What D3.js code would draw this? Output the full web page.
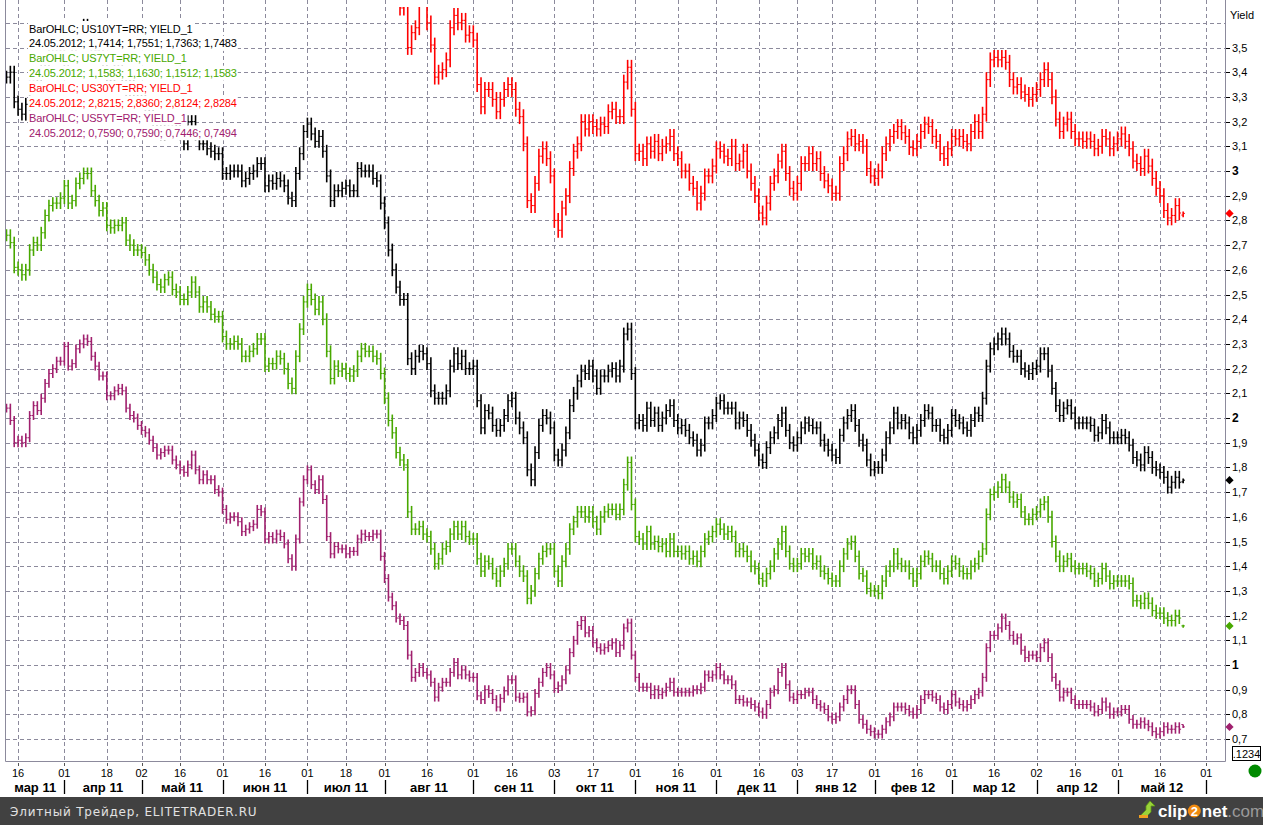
<!DOCTYPE html>
<html>
<head>
<meta charset="utf-8">
<script src="https://cdn.jsdelivr.net/npm/d3@7"></script>
<style>
  body { margin: 0; background: #fff; }
  svg { display: block; }
</style>
</head>
<body>
<script>
// trading calendar (US bond market days shown on the chart)
var calendarStart = "2011-03-11";
var calendarEnd = "2012-06-09";
var holidays = ["2011-04-22", "2011-05-30", "2011-07-04", "2011-09-05", "2011-11-24",
                "2011-12-26", "2012-01-02", "2012-01-16", "2012-02-20"];

// x axis labels
var tickDates = ["2011-03-16", "2011-04-01", "2011-04-18", "2011-05-02", "2011-05-16", "2011-06-01",
                 "2011-06-16", "2011-07-01", "2011-07-18", "2011-08-01", "2011-08-16", "2011-09-01",
                 "2011-09-16", "2011-10-03", "2011-10-17", "2011-11-01", "2011-11-16", "2011-12-01",
                 "2011-12-16", "2012-01-03", "2012-01-17", "2012-02-01", "2012-02-16", "2012-03-01",
                 "2012-03-16", "2012-04-02", "2012-04-16", "2012-05-01", "2012-05-16", "2012-06-01"];
var monthStarts = ["2011-04-01", "2011-05-02", "2011-06-01", "2011-07-01", "2011-08-01", "2011-09-01",
                   "2011-10-03", "2011-11-01", "2011-12-01", "2012-01-03", "2012-02-01", "2012-03-01",
                   "2012-04-02", "2012-05-01", "2012-06-01"];
var monthNames = ["мар 11", "апр 11", "май 11", "июн 11", "июл 11", "авг 11", "сен 11", "окт 11",
                  "ноя 11", "дек 11", "янв 12", "фев 12", "мар 12", "апр 12", "май 12"];

// y axis
var yTicks = [0.7, 0.8, 0.9, 1, 1.1, 1.2, 1.3, 1.4, 1.5, 1.6, 1.7, 1.8, 1.9, 2, 2.1, 2.2, 2.3, 2.4,
              2.5, 2.6, 2.7, 2.8, 2.9, 3, 3.1, 3.2, 3.3, 3.4, 3.5];
var yGrid = yTicks.concat([3.6]);

// daily yields (closes), 11.03.2011 - 24.05.2012
var us10Close = [
  3.38,3.40,3.28,3.25,3.23,3.27,3.34,3.34,3.36,3.42,
  3.44,3.47,3.48,3.47,3.47,3.45,3.46,3.50,3.57,3.56,
  3.59,3.58,3.50,3.49,3.52,3.41,3.37,3.37,3.41,3.42,
  3.36,3.33,3.37,3.33,3.29,3.29,3.27,3.24,3.16,3.17,
  3.15,3.21,3.21,3.21,3.17,3.15,3.11,3.20,3.20,3.15,
  3.11,3.11,3.09,3.08,3.07,3.07,2.99,2.99,3.00,3.00,
  3.00,2.96,2.97,2.99,3.00,3.03,3.03,2.94,2.96,2.95,
  2.97,2.96,2.94,2.89,2.88,2.99,3.07,3.16,3.19,3.15,
  3.12,3.14,3.08,2.98,2.88,2.92,2.92,2.93,2.94,2.92,
  2.92,3.01,3.00,3.00,3.00,2.97,2.96,2.87,2.79,2.68,
  2.60,2.53,2.48,2.48,2.24,2.20,2.25,2.27,2.26,2.22,
  2.11,2.08,2.08,2.08,2.11,2.21,2.26,2.22,2.25,2.20,
  2.20,2.21,2.07,1.96,2.03,2.02,1.97,1.95,1.97,2.01,
  2.07,2.08,2.00,1.96,1.92,1.79,1.75,1.86,1.97,2.01,
  2.00,1.96,1.85,1.83,1.87,1.94,2.05,2.10,2.15,2.19,
  2.18,2.21,2.17,2.12,2.17,2.17,2.19,2.20,2.17,2.21,
  2.34,2.36,2.18,1.98,1.99,1.97,2.04,1.99,2.02,1.97,
  2.00,2.03,2.05,1.99,1.96,1.97,1.95,1.92,1.91,1.87,
  1.89,1.98,1.98,2.01,2.06,2.07,2.04,2.04,2.04,1.98,
  2.00,1.99,1.95,1.91,1.87,1.83,1.82,1.88,1.92,1.94,
  1.99,2.02,1.95,1.90,1.89,1.92,1.96,1.98,1.97,1.96,
  1.96,1.91,1.89,1.87,1.85,1.84,1.93,1.98,2.01,2.03,
  1.97,1.91,1.89,1.83,1.79,1.80,1.80,1.85,1.92,1.96,
  2.02,1.98,1.99,1.98,1.94,1.92,1.95,1.99,2.03,2.02,
  1.97,1.97,1.93,1.92,1.95,2.01,1.99,1.98,1.96,1.95,
  1.99,2.02,2.01,2.08,2.21,2.28,2.30,2.32,2.34,2.32,
  2.27,2.25,2.25,2.20,2.19,2.18,2.20,2.21,2.26,2.26,
  2.19,2.12,2.05,2.01,2.04,2.05,2.02,1.98,1.98,1.98,
  1.98,1.97,1.93,1.94,1.99,1.96,1.92,1.92,1.92,1.93,
  1.92,1.89,1.84,1.83,1.81,1.86,1.84,1.80,1.79,1.78,
  1.76,1.72,1.74,1.76,1.74,1.7483];

var us7Close = [
  2.74,2.71,2.61,2.60,2.58,2.60,2.68,2.71,2.70,2.75,
  2.82,2.86,2.87,2.87,2.89,2.94,2.87,2.88,2.95,2.97,
  2.99,2.99,2.92,2.88,2.84,2.85,2.78,2.77,2.78,2.78,
  2.79,2.72,2.70,2.68,2.68,2.67,2.64,2.60,2.57,2.54,
  2.53,2.56,2.57,2.52,2.51,2.48,2.48,2.51,2.55,2.51,
  2.45,2.47,2.45,2.42,2.41,2.41,2.33,2.30,2.30,2.31,
  2.30,2.25,2.25,2.27,2.28,2.32,2.32,2.21,2.22,2.22,
  2.25,2.24,2.20,2.14,2.12,2.25,2.36,2.47,2.52,2.48,
  2.44,2.47,2.40,2.27,2.16,2.21,2.19,2.20,2.18,2.17,
  2.19,2.25,2.28,2.27,2.27,2.25,2.24,2.18,2.08,1.99,
  1.94,1.86,1.83,1.81,1.62,1.55,1.55,1.56,1.53,1.52,
  1.47,1.41,1.43,1.47,1.48,1.53,1.56,1.53,1.56,1.52,
  1.51,1.51,1.43,1.38,1.42,1.41,1.37,1.34,1.38,1.41,
  1.47,1.47,1.42,1.38,1.36,1.27,1.30,1.37,1.43,1.46,
  1.47,1.47,1.38,1.34,1.42,1.47,1.55,1.58,1.62,1.62,
  1.60,1.62,1.58,1.55,1.60,1.62,1.63,1.63,1.61,1.63,
  1.73,1.82,1.65,1.52,1.51,1.49,1.54,1.49,1.50,1.48,
  1.49,1.46,1.51,1.46,1.46,1.45,1.46,1.43,1.44,1.42,
  1.46,1.51,1.52,1.54,1.57,1.55,1.53,1.54,1.52,1.46,
  1.47,1.46,1.44,1.40,1.39,1.35,1.34,1.37,1.40,1.45,
  1.49,1.54,1.46,1.41,1.40,1.41,1.45,1.44,1.45,1.41,
  1.42,1.38,1.37,1.35,1.34,1.34,1.40,1.45,1.49,1.50,
  1.44,1.37,1.36,1.31,1.30,1.30,1.29,1.34,1.38,1.40,
  1.45,1.41,1.40,1.40,1.37,1.34,1.37,1.42,1.44,1.43,
  1.40,1.40,1.37,1.35,1.38,1.42,1.41,1.38,1.37,1.37,
  1.40,1.41,1.44,1.47,1.61,1.69,1.70,1.72,1.75,1.72,
  1.68,1.66,1.67,1.62,1.59,1.59,1.61,1.62,1.65,1.66,
  1.60,1.50,1.44,1.40,1.42,1.43,1.40,1.39,1.39,1.39,
  1.38,1.37,1.34,1.35,1.39,1.36,1.33,1.34,1.34,1.34,
  1.34,1.33,1.26,1.26,1.25,1.27,1.25,1.22,1.21,1.21,
  1.19,1.18,1.18,1.20,1.19,1.1583];

var us30Close = [
  4.53,4.50,4.46,4.38,4.42,4.44,4.50,4.48,4.50,4.53,
  4.53,4.56,4.55,4.52,4.51,4.49,4.51,4.56,4.62,4.61,
  4.64,4.63,4.56,4.55,4.58,4.47,4.43,4.42,4.47,4.48,
  4.43,4.41,4.44,4.41,4.39,4.39,4.37,4.35,4.28,4.30,
  4.28,4.33,4.32,4.33,4.29,4.28,4.26,4.32,4.29,4.28,
  4.25,4.25,4.25,4.20,4.20,4.20,4.12,4.19,4.17,4.21,
  4.24,4.20,4.24,4.21,4.23,4.30,4.19,4.17,4.14,4.19,
  4.20,4.20,4.18,4.11,4.09,4.20,4.27,4.38,4.38,4.38,
  4.34,4.38,4.29,4.26,4.19,4.22,4.21,4.25,4.26,4.24,
  4.26,4.31,4.30,4.30,4.31,4.27,4.25,4.12,4.06,3.93,
  3.88,3.72,3.66,3.69,3.50,3.56,3.58,3.70,3.72,3.60,
  3.51,3.38,3.40,3.41,3.45,3.58,3.63,3.60,3.61,3.55,
  3.56,3.53,3.35,3.26,3.33,3.33,3.29,3.24,3.29,3.33,
  3.35,3.33,3.25,3.22,3.11,2.88,2.86,2.95,3.06,3.09,
  3.05,2.98,2.80,2.76,2.85,2.90,3.01,3.08,3.11,3.20,
  3.17,3.20,3.18,3.17,3.19,3.18,3.24,3.25,3.22,3.22,
  3.36,3.42,3.25,3.07,3.08,3.05,3.11,3.08,3.12,3.07,
  3.10,3.11,3.14,3.07,3.05,3.00,3.00,2.95,2.93,2.87,
  2.91,2.98,2.98,3.02,3.09,3.08,3.06,3.05,3.10,3.03,
  3.04,3.08,3.00,2.95,2.90,2.83,2.81,2.87,2.95,2.98,
  3.04,3.08,2.99,2.93,2.91,2.95,3.03,3.03,3.07,3.03,
  3.05,2.99,2.96,2.94,2.91,2.91,3.03,3.07,3.13,3.14,
  3.11,3.12,3.10,3.01,2.98,2.97,3.00,3.07,3.11,3.14,
  3.16,3.18,3.155,3.14,3.095,3.09,3.12,3.16,3.19,3.18,
  3.14,3.12,3.07,3.05,3.09,3.14,3.13,3.14,3.12,3.11,
  3.16,3.20,3.16,3.23,3.37,3.45,3.46,3.45,3.46,3.44,
  3.37,3.34,3.35,3.32,3.31,3.29,3.31,3.33,3.37,3.41,
  3.37,3.30,3.21,3.16,3.19,3.21,3.16,3.13,3.13,3.12,
  3.13,3.12,3.09,3.10,3.14,3.13,3.09,3.11,3.13,3.15,
  3.12,3.09,3.04,3.03,3.01,3.06,3.02,2.97,2.93,2.90,
  2.84,2.81,2.82,2.86,2.83,2.8284];

var us5Close = [
  2.04,1.99,1.90,1.91,1.90,1.92,2.01,2.05,2.03,2.08,
  2.14,2.18,2.20,2.23,2.23,2.29,2.21,2.22,2.28,2.30,
  2.32,2.31,2.25,2.21,2.17,2.17,2.09,2.09,2.11,2.12,
  2.11,2.04,2.01,2.00,1.97,1.95,1.94,1.91,1.88,1.85,
  1.86,1.87,1.87,1.83,1.81,1.79,1.78,1.81,1.85,1.79,
  1.75,1.77,1.75,1.75,1.71,1.70,1.63,1.59,1.60,1.60,
  1.58,1.54,1.55,1.56,1.57,1.63,1.62,1.51,1.52,1.51,
  1.53,1.52,1.49,1.43,1.40,1.51,1.66,1.75,1.79,1.73,
  1.71,1.75,1.67,1.52,1.45,1.48,1.47,1.47,1.45,1.46,
  1.46,1.51,1.53,1.52,1.52,1.53,1.53,1.44,1.35,1.275,
  1.24,1.19,1.18,1.16,1.04,0.95,0.97,0.99,0.97,0.96,
  0.93,0.87,0.91,0.93,0.93,0.97,1.01,0.96,0.98,0.96,
  0.95,0.95,0.875,0.86,0.90,0.885,0.86,0.83,0.865,0.895,
  0.94,0.94,0.87,0.865,0.87,0.81,0.815,0.885,0.93,0.97,
  0.99,0.96,0.905,0.915,0.94,0.98,1.05,1.10,1.16,1.18,
  1.13,1.14,1.09,1.07,1.06,1.07,1.08,1.09,1.05,1.08,
  1.15,1.17,1.04,0.95,0.91,0.91,0.91,0.88,0.90,0.88,
  0.89,0.91,0.93,0.89,0.89,0.89,0.89,0.89,0.90,0.90,
  0.91,0.96,0.95,0.96,0.99,0.96,0.94,0.94,0.92,0.86,
  0.86,0.85,0.85,0.84,0.83,0.81,0.80,0.84,0.89,0.90,
  0.97,0.99,0.92,0.87,0.86,0.88,0.88,0.89,0.89,0.86,
  0.84,0.83,0.82,0.79,0.78,0.79,0.83,0.86,0.90,0.90,
  0.84,0.78,0.76,0.74,0.73,0.72,0.72,0.74,0.77,0.79,
  0.83,0.83,0.83,0.82,0.81,0.80,0.82,0.86,0.88,0.88,
  0.87,0.86,0.83,0.82,0.84,0.88,0.85,0.84,0.83,0.84,
  0.86,0.88,0.89,0.95,1.07,1.12,1.12,1.15,1.19,1.16,
  1.12,1.10,1.11,1.06,1.03,1.04,1.04,1.03,1.07,1.09,
  1.03,0.95,0.92,0.87,0.89,0.89,0.86,0.84,0.84,0.84,
  0.84,0.83,0.81,0.82,0.85,0.83,0.80,0.81,0.81,0.82,
  0.82,0.78,0.76,0.76,0.77,0.76,0.75,0.73,0.72,0.73,
  0.75,0.74,0.74,0.75,0.74,0.7494];

// last bar (24.05.2012): open, high, low, close
var us10Last = [1.7414, 1.7551, 1.7363, 1.7483];
var us7Last = [1.1583, 1.1630, 1.1512, 1.1583];
var us30Last = [2.8215, 2.8360, 2.8124, 2.8284];
var us5Last = [0.7590, 0.7590, 0.7446, 0.7494];

var seriesNames = ["US10YT=RR", "US7YT=RR", "US30YT=RR", "US5YT=RR"];
var seriesColors = ["#000000", "#48a800", "#ff0000", "#a0206e"];
var seriesPad = [0.026, 0.024, 0.03, 0.018];

var w = 1263, h = 825;
var plotLeft = 6, plotRight = 1225, plotTop = 7, plotBottom = 761;
var gridColor = "#8c8a9c";

var svg = d3.select("body").append("svg")
  .attr("width", w).attr("height", h)
  .style("font-family", "'Liberation Sans', Arial, sans-serif");

var parse = d3.timeParse("%Y-%m-%d");
var fmt = d3.timeFormat("%Y-%m-%d");
var days = d3.timeDays(parse(calendarStart), parse(calendarEnd)).filter(function(d) {
  return d.getDay() != 0 && d.getDay() != 6 && holidays.indexOf(fmt(d)) < 0;
});
var dayIndex = {};
days.forEach(function(d, i) { dayIndex[fmt(d)] = i; });

var x = d3.scaleLinear().domain([0, 316]).range([6.5, 1225.6]);
var y = d3.scaleLinear().domain([1, 3]).range([665, 171]);

svg.append("defs").append("clipPath").attr("id", "plotClip")
  .append("rect")
  .attr("x", plotLeft).attr("y", plotTop)
  .attr("width", plotRight - plotLeft).attr("height", plotBottom - plotTop);

// grid
var grid = svg.append("g")
  .attr("stroke", gridColor)
  .attr("stroke-width", 1)
  .attr("stroke-dasharray", "4,3");

grid.selectAll(".hgrid")
  .data(yGrid)
  .enter().append("line")
  .attr("x1", plotLeft).attr("x2", plotRight)
  .attr("y1", function(d) { return Math.round(y(d)) + 0.5; })
  .attr("y2", function(d) { return Math.round(y(d)) + 0.5; });

grid.selectAll(".vgrid")
  .data(tickDates)
  .enter().append("line")
  .attr("x1", function(d) { return Math.round(x(dayIndex[d])) + 0.5; })
  .attr("x2", function(d) { return Math.round(x(dayIndex[d])) + 0.5; })
  .attr("y1", 0).attr("y2", plotBottom);

// bars
function makeBars(closes, last, pad) {
  return closes.map(function(c, i) {
    if (i == closes.length - 1) {
      return { i: i, o: last[0], h: last[1], l: last[2], c: last[3] };
    }
    var o = i > 0 ? closes[i - 1] : c;
    return { i: i, o: o, c: c, h: Math.max(o, c) + pad, l: Math.min(o, c) - pad };
  });
}

var closesList = [us10Close, us7Close, us30Close, us5Close];
var lastList = [us10Last, us7Last, us30Last, us5Last];

var barsG = svg.append("g").attr("clip-path", "url(#plotClip)");

[2, 0, 1, 3].forEach(function(k) {
  var bars = makeBars(closesList[k], lastList[k], seriesPad[k]);
  var sg = barsG.append("g").attr("stroke", seriesColors[k]);

  sg.selectAll(".hl")
    .data(bars)
    .enter().append("line")
    .attr("stroke-width", 1.6)
    .attr("x1", function(d) { return x(d.i); })
    .attr("x2", function(d) { return x(d.i); })
    .attr("y1", function(d) { return y(d.h); })
    .attr("y2", function(d) { return y(d.l); });

  sg.selectAll(".op")
    .data(bars)
    .enter().append("line")
    .attr("stroke-width", 1)
    .attr("x1", function(d) { return x(d.i) - 1.8; })
    .attr("x2", function(d) { return x(d.i); })
    .attr("y1", function(d) { return y(d.o); })
    .attr("y2", function(d) { return y(d.o); });

  sg.selectAll(".cl")
    .data(bars)
    .enter().append("line")
    .attr("stroke-width", 1)
    .attr("x1", function(d) { return x(d.i); })
    .attr("x2", function(d) { return x(d.i) + 1.8; })
    .attr("y1", function(d) { return y(d.c); })
    .attr("y2", function(d) { return y(d.c); });
});

// frame
var frame = svg.append("g").attr("stroke", "#8c8a9c").attr("stroke-width", 1);
frame.append("line").attr("x1", plotLeft - 0.5).attr("x2", plotLeft - 0.5).attr("y1", 0).attr("y2", plotBottom + 0.5);
frame.append("line").attr("x1", plotLeft - 0.5).attr("x2", plotRight + 0.5).attr("y1", plotBottom + 0.5).attr("y2", plotBottom + 0.5);
frame.append("line").attr("x1", plotRight + 0.5).attr("x2", plotRight + 0.5).attr("y1", 0).attr("y2", plotBottom + 0.5);

// y axis
var yAxis = svg.append("g");
yAxis.selectAll(".ytick")
  .data(yTicks)
  .enter().append("line")
  .attr("stroke", "#000")
  .attr("x1", plotRight + 1).attr("x2", plotRight + 5)
  .attr("y1", function(d) { return Math.round(y(d)) + 0.5; })
  .attr("y2", function(d) { return Math.round(y(d)) + 0.5; });

yAxis.selectAll(".ylabel")
  .data(yTicks)
  .enter().append("text")
  .attr("x", plotRight + 7)
  .attr("y", function(d) { return Math.round(y(d)) + 4; })
  .style("font-size", function(d) { return Number.isInteger(d) ? "12px" : "11px"; })
  .style("font-weight", function(d) { return Number.isInteger(d) ? "bold" : "normal"; })
  .text(function(d) { return Number.isInteger(d) ? String(d) : d3.format(".1f")(d).replace(".", ","); });

svg.append("text")
  .attr("x", 1230).attr("y", 19)
  .style("font-size", "11px")
  .text("Yield");

// last value markers
lastList.forEach(function(last, k) {
  svg.append("path")
    .attr("d", d3.symbol(d3.symbolSquare, 34)())
    .attr("transform", "translate(" + (plotRight + 4.5) + "," + y(last[3]) + ") rotate(45)")
    .attr("fill", seriesColors[k]);
});

// x axis
var xAxis = svg.append("g");
xAxis.selectAll(".xtick")
  .data(tickDates)
  .enter().append("line")
  .attr("stroke", "#555")
  .attr("x1", function(d) { return Math.round(x(dayIndex[d])) + 0.5; })
  .attr("x2", function(d) { return Math.round(x(dayIndex[d])) + 0.5; })
  .attr("y1", plotBottom + 2).attr("y2", plotBottom + 5);

xAxis.selectAll(".xlabel")
  .data(tickDates)
  .enter().append("text")
  .attr("x", function(d) { return x(dayIndex[d]); })
  .attr("y", 777)
  .attr("text-anchor", "middle")
  .style("font-size", "11px")
  .text(function(d) { return d3.timeFormat("%d")(parse(d)); });

xAxis.selectAll(".msep")
  .data(monthStarts)
  .enter().append("line")
  .attr("stroke", "#000")
  .attr("stroke-width", 1.3)
  .attr("x1", function(d) { return Math.round(x(dayIndex[d])) + 0.5; })
  .attr("x2", function(d) { return Math.round(x(dayIndex[d])) + 0.5; })
  .attr("y1", 780).attr("y2", 794);

xAxis.selectAll(".mlabel")
  .data(monthNames)
  .enter().append("text")
  .attr("x", function(d, k) {
    var a = k == 0 ? plotLeft : x(dayIndex[monthStarts[k - 1]]);
    var b = x(dayIndex[monthStarts[k]]);
    return (a + b) / 2;
  })
  .attr("y", 792)
  .attr("text-anchor", "middle")
  .style("font-size", "13px")
  .style("font-weight", "bold")
  .text(function(d) { return d; });

// legend
var legendLines = [];
seriesNames.forEach(function(name, k) {
  var last = lastList[k];
  legendLines.push({ text: "BarOHLC; " + name + "; YIELD_1", color: seriesColors[k] });
  legendLines.push({
    text: "24.05.2012; " + last.map(function(v) { return d3.format(".4f")(v).replace(".", ","); }).join("; "),
    color: seriesColors[k]
  });
});

var legend = svg.append("g");
legendLines.forEach(function(line, j) {
  var cy = 28.5 + j * 14.9;
  var bg = legend.append("rect").attr("fill", "#fff");
  var t = legend.append("text")
    .attr("x", 29).attr("y", cy + 4)
    .attr("fill", line.color)
    .style("font-size", "11px")
    .style("letter-spacing", "-0.15px")
    .text(line.text);
  var bb = t.node().getBBox();
  bg.attr("x", bb.x - 1).attr("y", cy - 7.5).attr("width", bb.width + 2).attr("height", 15);
});

// status box and indicator
svg.append("rect")
  .attr("x", 1232.5).attr("y", 746.5).attr("width", 28).attr("height", 14)
  .attr("fill", "#fff").attr("stroke", "#000");
svg.append("text")
  .attr("x", 1246.5).attr("y", 757.5)
  .attr("text-anchor", "middle")
  .style("font-size", "11px")
  .text(".1234");
svg.append("circle")
  .attr("cx", 1255).attr("cy", 771).attr("r", 6.5)
  .attr("fill", "#008a00");

// footer
svg.append("rect")
  .attr("x", 0).attr("y", 797).attr("width", w).attr("height", h - 797)
  .attr("fill", "#414141");
svg.append("text")
  .attr("x", 10).attr("y", 816)
  .attr("fill", "#e2e2e2")
  .style("font-family", "'DejaVu Sans', Verdana, sans-serif")
  .style("font-size", "12px")
  .style("letter-spacing", "0.8px")
  .text("Элитный Трейдер, ELITETRADER.RU");

// clip2net logo, pieces laid out one after another
var logo = svg.append("g").attr("transform", "translate(1138,800)");
logo.append("path")
  .attr("d", "M2,16 L8,10 L8,6 L12,1 L17,6 L13,6 L13,12 L8,17 Z")
  .attr("fill", "#9ad23a").attr("stroke", "#5e9a12").attr("stroke-width", 0.8);
logo.append("rect").attr("x", 1).attr("y", 15).attr("width", 9).attr("height", 3).attr("fill", "#f0a020");

var logoFont = "'Liberation Sans', Arial, sans-serif";
var cx = 20;
var tClip = logo.append("text")
  .attr("x", cx).attr("y", 17)
  .attr("fill", "#fff")
  .style("font-family", logoFont)
  .style("font-size", "17px").style("font-weight", "bold")
  .text("clip");
cx += tClip.node().getComputedTextLength() + 7;
logo.append("circle").attr("cx", cx).attr("cy", 11).attr("r", 6.5).attr("fill", "#f08a10");
logo.append("text")
  .attr("x", cx).attr("y", 16).attr("text-anchor", "middle")
  .attr("fill", "#fff")
  .style("font-family", logoFont)
  .style("font-size", "13px").style("font-weight", "bold")
  .text("2");
cx += 7.5;
var tNet = logo.append("text")
  .attr("x", cx).attr("y", 17)
  .attr("fill", "#fff")
  .style("font-family", logoFont)
  .style("font-size", "17px").style("font-weight", "bold")
  .text("net");
cx += tNet.node().getComputedTextLength();
logo.append("text")
  .attr("x", cx).attr("y", 17)
  .attr("fill", "#9a9a9a")
  .style("font-family", logoFont)
  .style("font-size", "17px")
  .text(".com");
</script>
</body>
</html>
